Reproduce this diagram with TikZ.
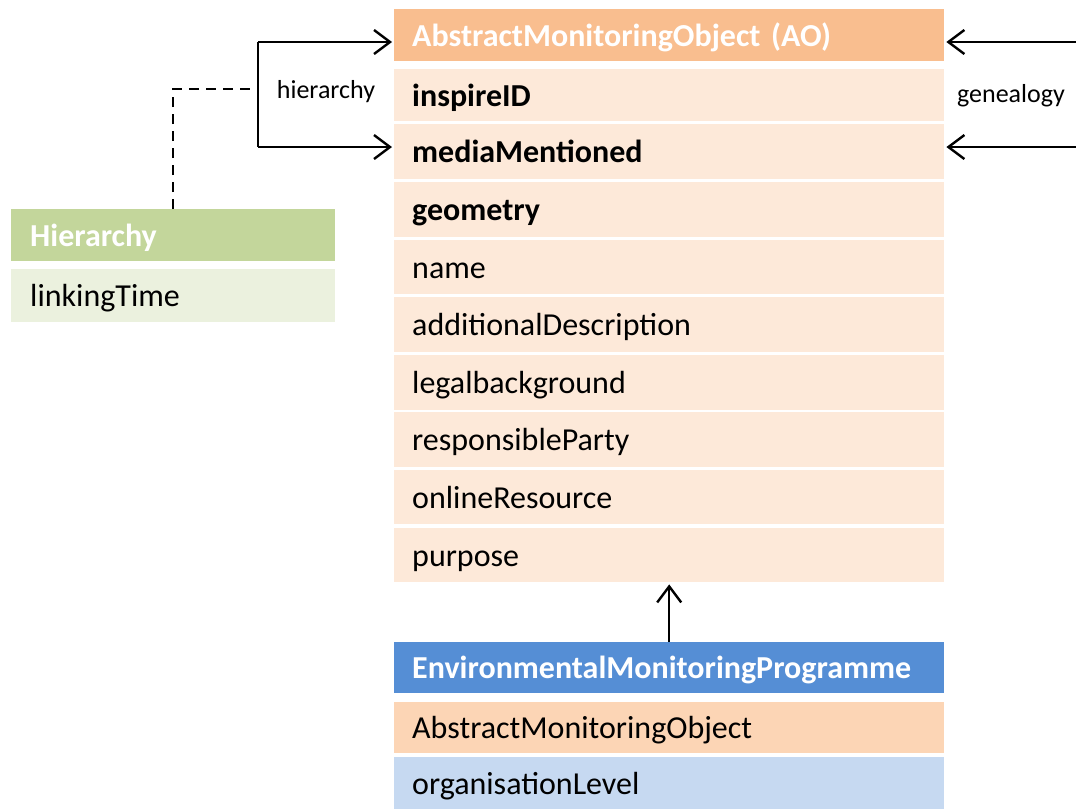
\documentclass[tikz,border=0pt]{standalone}
\usepackage{fontspec}
\setmainfont{Carlito}
\usetikzlibrary{arrows.meta}
\definecolor{aohead}{HTML}{F9BE8F}
\definecolor{aorow}{HTML}{FDE9D9}
\definecolor{aoref}{HTML}{FCD5B5}
\definecolor{emphead}{HTML}{558ED5}
\definecolor{emprow}{HTML}{C6D9F1}
\definecolor{hihead}{HTML}{C3D69B}
\definecolor{hirow}{HTML}{EBF1DE}
\tikzset{
  cell/.style={anchor=north west, minimum height=#1, inner ysep=0pt, inner xsep=18pt,
    text width=514pt, align=left, font=\fontsize{32}{36}\selectfont, text height=24pt, text depth=2pt},
  aocell/.style={cell=#1, fill=aorow},
  hcell/.style={cell=#1, text width=286pt, inner xsep=19pt},
  whitebold/.style={text=white, font=\fontsize{32}{36}\selectfont\bfseries},
  lbl/.style={font=\fontsize{26}{30}\selectfont, inner sep=0pt},
  arr/.style={line width=2.4pt, -{Straight Barb[length=16pt,width=24pt,line width=2.4pt]}, shorten >=2pt},
  dline/.style={line width=2.4pt, dash pattern=on 10pt off 7pt},
}
\begin{document}
\begin{tikzpicture}[x=1pt,y=-1pt]
\useasboundingbox (0,0) rectangle (1076,809);
% AO class
\node[cell=52pt, whitebold, fill=aohead] (ao) at (394,9) {AbstractMonitoringObject (AO)};
\node[aocell=52pt] (r1) at (394,69) {\bfseries inspireID};
\node[aocell=55pt] (r2) at (394,124) {\bfseries mediaMentioned};
\node[aocell=55pt] (r3) at (394,182) {\bfseries geometry};
\node[aocell=54pt] (r4) at (394,240) {name};
\node[aocell=55pt] (r5) at (394,297) {additionalDescription};
\node[aocell=55pt] (r6) at (394,355) {legalbackground};
\node[aocell=55pt] (r7) at (394,412) {responsibleParty};
\node[aocell=54pt] (r8) at (394,470) {onlineResource};
\node[aocell=54pt] (r9) at (394,528) {purpose};
% Hierarchy class
\node[hcell=52pt, whitebold, fill=hihead] (hi) at (11,209) {Hierarchy};
\node[hcell=53pt, fill=hirow] (hi1) at (11,269) {linkingTime};
% EMP class
\node[cell=51pt, whitebold, fill=emphead] (emp) at (394,642) {EnvironmentalMonitoringProgramme};
\node[cell=51pt, fill=aoref] (e1) at (394,702) {AbstractMonitoringObject};
\node[cell=52pt, fill=emprow] (e2) at (394,757) {organisationLevel};
% hierarchy association
\coordinate (hj) at (258,89);
\coordinate (hjtop) at (258,42);
\coordinate (hjbot) at (258,147);
\draw[line width=2.4pt] (hjtop) -- (hjbot);
\draw[arr] (hjtop) -- (hjtop -| ao.west);
\draw[arr] (hjbot) -- (hjbot -| r2.west);
\draw[dline] (hi.north) |- (hj);
\node[lbl] (hl) at (326,92) {hierarchy};
% genealogy association
\coordinate (g1) at (1076,42);
\coordinate (g2) at (1076,147);
\draw[arr] (g1) -- (g1 -| ao.east);
\draw[arr] (g2) -- (g2 -| r2.east);
\node[lbl] (gl) at (1011,96) {genealogy};
% generalisation
\draw[arr] (emp.north) -- (r9.south);
\end{tikzpicture}
\end{document}
